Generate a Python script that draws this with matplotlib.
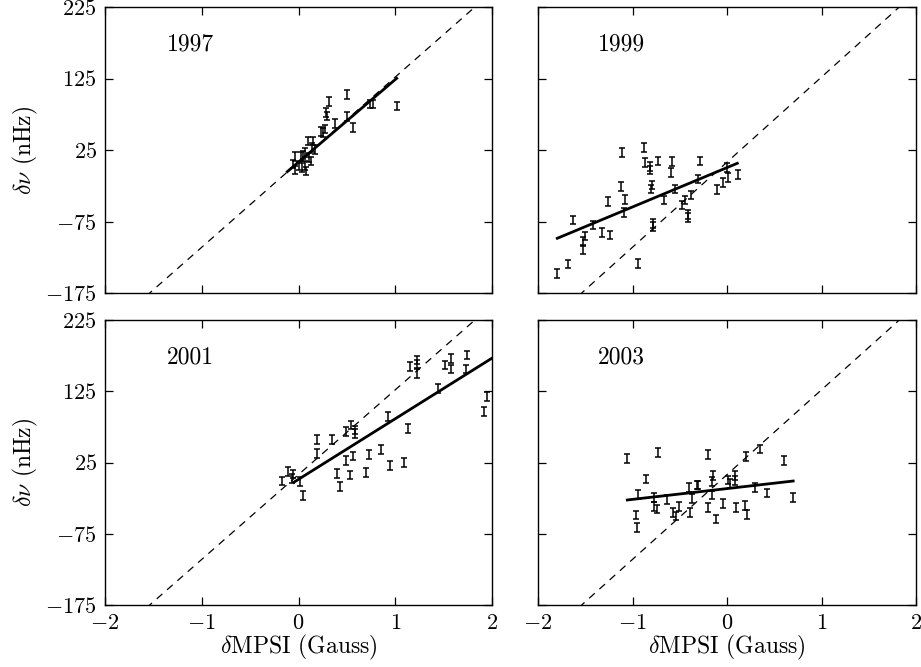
import matplotlib

matplotlib.use("Agg")
import matplotlib.pyplot as plt

plt.rcParams["font.family"] = "serif"
plt.rcParams["font.serif"] = ["cmr10", "DejaVu Serif"]
plt.rcParams["mathtext.fontset"] = "cm"
plt.rcParams["axes.unicode_minus"] = False

# 1997
x97 = [0.318, 0.504, 0.284, 0.298, 0.380, 0.498, 0.566, 0.739, 0.767, 1.015,
       0.271, 0.236, 0.257, 0.098, 0.153, 0.140, 0.167, 0.070, 0.050, 0.029,
       -0.040, -0.054, -0.033, 0.001, 0.036, 0.070, 0.077, 0.126, 0.105]
y97 = [92.6, 102.9, 77.2, 72.6, 62.3, 71.6, 56.2, 89.3, 89.3, 86.5,
       54.4, 50.6, 49.2, 37.6, 37.6, 28.8, 26.0, 21.2, 18.0, 15.6,
       15.6, 5.4, -3.0, 2.6, 0.8, 3.6, -4.4, 9.6, 14.8]
fit97 = ([-0.116, 1.015], [-5.3, 125.3])

# 1999
x99 = [-1.114, -0.875, -0.868, -0.815, -0.815, -0.733, -0.579, -0.596, -0.286,
       -1.125, -0.797, -0.804, -1.256, -1.079, -1.090, -0.667, -0.550, -0.304,
       -0.384, -0.444, -0.479, -0.416, -0.416, -0.003, 0.014, -0.039, -0.109,
       0.113, -1.633, -1.415, -1.503, -1.521, -1.527, -1.320, -1.238, -0.786,
       -0.786, -1.679, -1.802, -0.939]
y99 = [21.2, 28.2, 7.8, 1.6, -3.0, 9.6, 8.6, -6.8, 9.6,
       -26.3, -24.0, -29.5, -47.3, -44.0, -62.7, -45.0, -29.5, -15.6,
       -37.9, -45.0, -51.9, -65.0, -69.1, 0.2, -13.7, -20.7, -30.0,
       -9.0, -72.9, -79.9, -95.3, -103.2, -113.9, -90.7, -93.9, -77.5,
       -82.2, -134.4, -147.5, -133.5]
fit99 = ([-1.796, 0.109], [-98.5, 6.4])

# 2001
x01 = [1.152, 1.222, 1.222, 1.229, 1.514, 1.576, 1.576, 1.738, 1.731, 1.438,
       1.951, 1.917, 0.922, 1.135, 0.539, 0.491, 0.588, 0.588, 0.188, 0.349,
       0.188, 0.566, 0.491, 0.732, 0.850, 0.946, 1.090, 0.395, 0.532, 0.698,
       0.429, -0.105, -0.054, -0.174, -0.070, 0.016, 0.050]
y01 = [159.5, 168.9, 163.2, 150.2, 161.8, 171.2, 156.2, 175.9, 156.2, 129.1,
       117.4, 96.3, 89.3, 73.0, 77.6, 68.2, 70.6, 66.0, 57.5, 57.5,
       37.9, 34.1, 27.5, 36.5, 43.5, 20.5, 25.3, 9.8, 7.5, 11.2,
       -9.0, 12.1, 8.9, -1.0, 2.8, -1.9, -21.6]
fit01 = ([-0.05, 1.997], [-2.9, 171.2])

# 2003
x03 = [-1.061, -0.733, -0.198, 0.201, -0.860, -0.152, -0.156, 0.085, 0.085,
       0.007, 0.032, -0.399, -0.321, -0.304, -0.945, -0.772, -0.638, -0.374,
       -0.156, -0.769, -0.744, -0.508, -0.568, -0.540, -0.392, -0.198, -0.039,
       0.095, 0.190, 0.208, -0.118, -0.966, -0.955, 0.35, 0.60, 0.42, 0.70, 0.30]
y03 = [30.9, 38.8, 36.5, 33.2, 1.8, 6.5, -1.9, 6.5, -0.5,
       0.4, -4.2, -9.8, -6.6, -6.6, -19.6, -23.8, -26.6, -25.3,
       -20.6, -37.0, -40.3, -37.0, -44.9, -50.1, -45.5, -38.4, -32.3,
       -37.9, -35.6, -47.7, -54.3, -48.7, -66.0, 44.0, 28.0, -18.0, -24.0, -10.0]
fit03 = ([-1.055, 0.70], [-27.6, -1.0])

ERR = 6.0
dash_x = [-2.0, 2.0]
dash_y = [8.0 - 2.0 * 119.0, 8.0 + 2.0 * 119.0]

panels = [
    ("1997", x97, y97, fit97),
    ("1999", x99, y99, fit99),
    ("2001", x01, y01, fit01),
    ("2003", x03, y03, fit03),
]

W, H = 921, 667
boxes = [
    (105, 7, 492, 293),
    (538, 7, 916, 293),
    (105, 320, 492, 605),
    (538, 320, 916, 605),
]

xticks = [-2, -1, 0, 1, 2]
yticks = [-175, -75, 25, 125, 225]


def tick_text(v):
    return r"$%d$" % v if v >= 0 else r"$-%d$" % -v


fig = plt.figure(figsize=(W / 100, H / 100), dpi=100)
for i, ((year, xs, ys, fit), (l, t, r, b)) in enumerate(zip(panels, boxes)):
    ax = fig.add_axes([l / W, 1 - b / H, (r - l) / W, (b - t) / H])
    ax.plot(dash_x, dash_y, color="black", lw=0.9, dashes=(6, 5))
    ax.errorbar(xs, ys, yerr=ERR, fmt="none", ecolor="black", elinewidth=1.1,
                capsize=2.2, capthick=1.1)
    ax.plot(fit[0], fit[1], color="black", lw=2.0)
    ax.set_xlim(-2, 2)
    ax.set_ylim(-175, 225)
    ax.text(-1.12, 172, year, fontsize=17, ha="center", va="center")
    ax.set_xticks(xticks)
    ax.set_yticks(yticks)
    ax.tick_params(direction="in", length=6, width=0.9, top=True, right=True,
                   labelsize=16, pad=6)
    for s in ax.spines.values():
        s.set_linewidth(1.0)
    if i >= 2:
        ax.set_xticklabels([tick_text(v) for v in xticks])
        ax.set_xlabel(r"$\delta$MPSI (Gauss)", fontsize=17, labelpad=0)
    else:
        ax.set_xticklabels([])
    if i % 2 == 0:
        ax.set_yticklabels([tick_text(v) for v in yticks])
        ax.set_ylabel(r"$\delta\nu$ (nHz)", fontsize=17, labelpad=4)
    else:
        ax.set_yticklabels([])

fig.savefig("out.png", dpi=100)
